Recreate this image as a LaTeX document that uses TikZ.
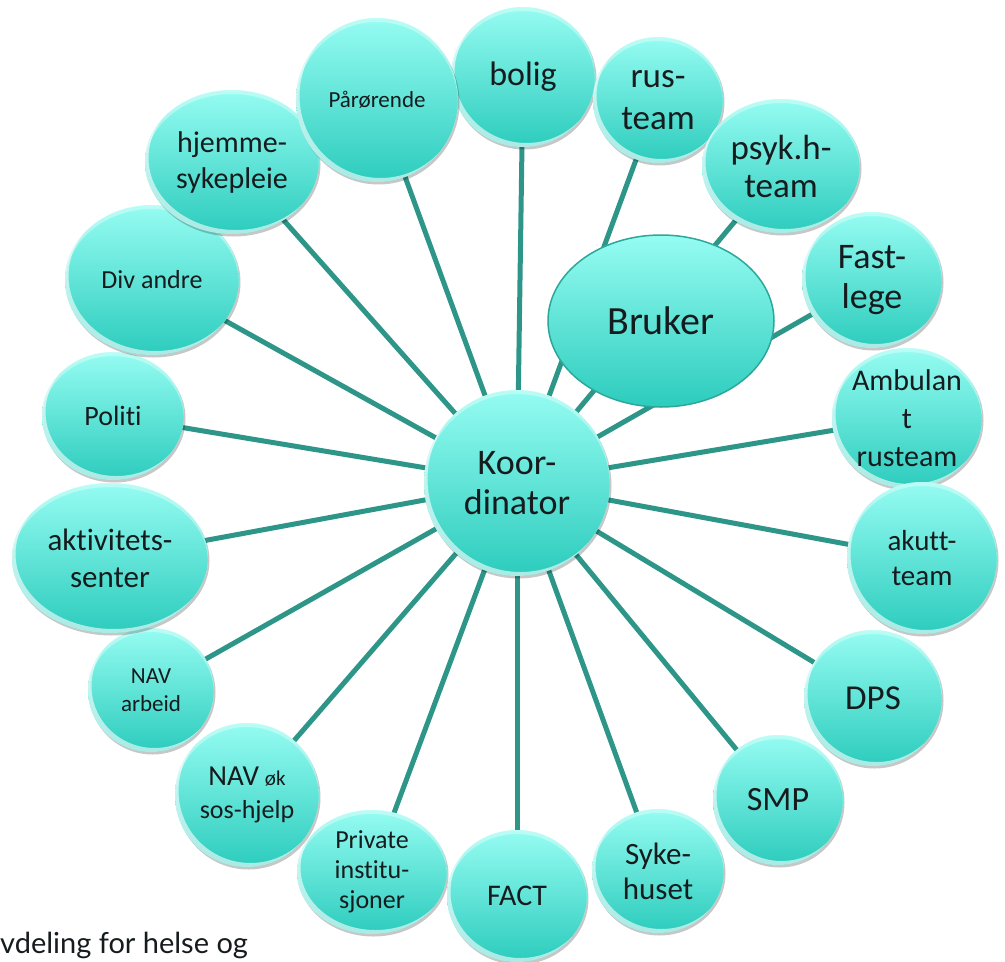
\documentclass[tikz,border=0pt]{standalone}
\usepackage{fontspec}
\setmainfont{Carlito}[Ligatures=NoCommon,Contextuals=NoAlternate]
\newfontfamily\footfont{Lato}
\usetikzlibrary{shapes.geometric,shadows,calc,backgrounds}
\definecolor{bubtop}{RGB}{150,252,242}
\definecolor{bubbot}{RGB}{44,204,189}
\definecolor{connc}{RGB}{46,150,136}
\definecolor{brukline}{RGB}{44,168,154}
\definecolor{txtc}{RGB}{22,28,30}
\newcommand{\fsz}[2]{\fontsize{#1}{#2}\selectfont}
\tikzset{
  bub/.style={ellipse, inner sep=0pt, draw=none, top color=bubtop, bottom color=bubbot,
    drop shadow={shadow xshift=1.5pt, shadow yshift=-2.5pt, opacity=.22, fill=black},
    path picture={
      \fill[white,opacity=.6,even odd rule]
        let \p1=(path picture bounding box.north east), \p2=(path picture bounding box.south west),
            \p3=($(\p1)!.5!(\p2)$) in
        (\p3) ellipse [x radius={(\x1-\x2)/2}, y radius={(\y1-\y2)/2}]
        ($(\p3)+(3.5pt,4pt)$) ellipse [x radius={(\x1-\x2)/2}, y radius={(\y1-\y2)/2}];
      \fill[white,opacity=.35,even odd rule]
        let \p1=(path picture bounding box.north east), \p2=(path picture bounding box.south west),
            \p3=($(\p1)!.5!(\p2)$) in
        (\p3) ellipse [x radius={(\x1-\x2)/2}, y radius={(\y1-\y2)/2}]
        ($(\p3)+(0pt,-4pt)$) ellipse [x radius={(\x1-\x2)/2}, y radius={(\y1-\y2)/2}];
    }},
  bubtext/.style={align=center, text=txtc, inner sep=0pt},
  conn/.style={draw=connc, line width=5pt},
  brukstyle/.style={ellipse, inner sep=0pt, top color=bubtop, bottom color=bubbot, draw=brukline, line width=1.5pt}
}
\begin{document}
\begin{tikzpicture}[x=1pt,y=-1pt]
\useasboundingbox (0,0) rectangle (1005,962);
% outer bubbles
\node[bub, minimum width=144pt, minimum height=140pt, label={[bubtext,font=\fsz{34}{39}]center:bolig}] (bolig) at (523,77) {};
\node[bub, minimum width=130pt, minimum height=126pt, label={[bubtext,font=\fsz{35}{42}]center:{rus-\\team}}] (rus) at (658,100) {};
\node[bub, minimum width=158pt, minimum height=134pt, label={[bubtext,font=\fsz{35}{38}]center:{psyk.h-\\team}}] (psyk) at (781,166) {};
\node[bub, minimum width=140pt, minimum height=136pt, label={[bubtext,font=\fsz{36}{40}]center:{Fast-\\lege}}] (fast) at (872,280) {};
\node[bub, minimum width=150pt, minimum height=140pt, label={[bubtext,font=\fsz{30}{38}]center:{Ambulan\\t\\rusteam}}] (ambul) at (907,418) {};
\node[bub, minimum width=150pt, minimum height=152pt, label={[bubtext,font=\fsz{29}{35}]center:{akutt-\\team}}] (akutt) at (922,558) {};
\node[bub, minimum width=138pt, minimum height=136pt, label={[bubtext,font=\fsz{35}{40}]center:DPS}] (dps) at (873,698) {};
\node[bub, minimum width=130pt, minimum height=130pt, label={[bubtext,font=\fsz{34}{39}]center:SMP}] (smp) at (778,800) {};
\node[bub, minimum width=132pt, minimum height=124pt, label={[bubtext,font=\fsz{31}{35}]center:{Syke-\\huset}}] (syke) at (658,871) {};
\node[bub, minimum width=140pt, minimum height=132pt, label={[bubtext,font=\fsz{30}{35}]center:FACT}] (fact) at (517,896) {};
\node[bub, minimum width=150pt, minimum height=124pt, label={[bubtext,font=\fsz{26}{30}]center:{Private\\institu-\\sjoner}}] (priv) at (372,872) {};
\node[bub, minimum width=144pt, minimum height=144pt, label={[bubtext,font=\fsz{26}{33}]center:{{\fsz{29}{33}NAV} {\fsz{21}{33}øk}\\sos-hjelp}}] (navok) at (247,795) {};
\node[bub, minimum width=126pt, minimum height=124pt, label={[bubtext,font=\fsz{23}{28}]center:{NAV\\arbeid}}] (navarb) at (151,690) {};
\node[bub, minimum width=196pt, minimum height=150pt, label={[bubtext,font=\fsz{31}{37}]center:{aktivitets-\\senter}}] (aktiv) at (110,558) {};
\node[bub, minimum width=142pt, minimum height=128pt, label={[bubtext,font=\fsz{28}{33}]center:Politi}] (politi) at (113,416) {};
\node[bub, minimum width=174pt, minimum height=150pt, label={[bubtext,font=\fsz{26}{30}]center:Div andre}] (div) at (152,280) {};
\node[bub, minimum width=174pt, minimum height=144pt, label={[bubtext,font=\fsz{30}{36}]center:{hjemme-\\sykepleie}}] (hjem) at (232,162) {};
\node[bub, minimum width=162pt, minimum height=164pt, label={[bubtext,font=\fsz{23}{27}]center:Pårørende}] (paar) at (377,100) {};
% centre
\node[brukstyle, minimum width=226pt, minimum height=172pt, label={[bubtext,font=\fsz{40}{46}]center:Bruker}] (bruker) at (661,321) {};
\node[bub, minimum width=186pt, minimum height=186pt, label={[bubtext,font=\fsz{36}{40}]center:{Koor-\\dinator}}] (koord) at (517,483) {};
% connectors
\begin{pgfonlayer}{background}
\foreach \n in {bolig,rus,psyk,fast,ambul,akutt,dps,smp,syke,fact,priv,navok,navarb,aktiv,politi,div,hjem,paar}
  \draw[conn] (koord.center) -- (\n.center);
\end{pgfonlayer}
% footer text
\node[anchor=base west, inner sep=0pt, text=txtc, font=\footfont\fsz{29}{34}] (footer) at (0,953) {vdeling for helse og};
\end{tikzpicture}
\end{document}
